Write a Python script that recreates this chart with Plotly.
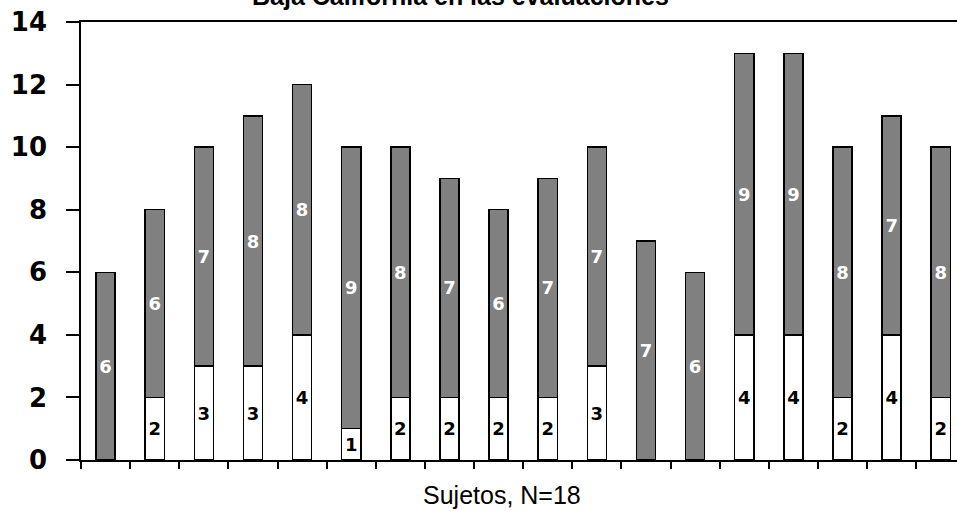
import plotly.graph_objects as go

subjects = list(range(1, 19))
white_vals = [0, 2, 3, 3, 4, 1, 2, 2, 2, 2, 3, 0, 0, 4, 4, 2, 4, 2]
gray_vals = [6, 6, 7, 8, 8, 9, 8, 7, 6, 7, 7, 7, 6, 9, 9, 8, 7, 8]
y_ticks = [0, 2, 4, 6, 8, 10, 12, 14]
title_text = "Baja California en las evaluaciones"
x_title = "Sujetos, N=18"

xpos = [s - 1 for s in subjects]
bar_w = 0.39

fig = go.Figure()
fig.add_trace(go.Bar(
    x=xpos, y=white_vals, width=bar_w,
    marker=dict(color="white", line=dict(color="black", width=1.5)),
    text=[str(v) if v else "" for v in white_vals],
    textposition="inside", insidetextanchor="middle", constraintext="none",
    textfont=dict(family="DejaVu Sans", size=18, color="black", weight="bold"),
    textangle=0, showlegend=False, hoverinfo="skip",
))
fig.add_trace(go.Bar(
    x=xpos, y=gray_vals, width=bar_w,
    marker=dict(color="#808080", line=dict(color="black", width=1.5)),
    text=[str(v) if v else "" for v in gray_vals],
    textposition="inside", insidetextanchor="middle", constraintext="none",
    textfont=dict(family="DejaVu Sans", size=18, color="white", weight="bold"),
    textangle=0, showlegend=False, hoverinfo="skip",
))

fig.update_layout(
    barmode="stack",
    width=957, height=511,
    margin=dict(l=81, r=0, t=22, b=51),
    plot_bgcolor="white", paper_bgcolor="white",
    xaxis=dict(
        range=[-0.5, 17.33], tickvals=[i - 0.5 for i in range(19)],
        showticklabels=False, ticks="outside", ticklen=7, tickwidth=1.5,
        tickcolor="black", showline=True, linecolor="black", linewidth=1.5,
        mirror=True, showgrid=False, zeroline=False,
    ),
    yaxis=dict(
        range=[0, 14], tickvals=y_ticks, ticks="outside", ticklen=13,
        tickwidth=1.5, tickcolor="black", showline=True, linecolor="black",
        linewidth=1.5, showgrid=False, zeroline=False,
        tickfont=dict(family="DejaVu Sans", size=26, color="black", weight="bold"),
        ticklabelstandoff=14,
    ),
    annotations=[
        dict(text=title_text, xref="paper", yref="paper", x=0.4327, y=1.059,
             xanchor="center", yanchor="middle", showarrow=False,
             font=dict(family="Liberation Sans", size=25, color="black", weight="bold")),
        dict(text=x_title, xref="paper", yref="paper", x=0.4806, y=-0.081,
             xanchor="center", yanchor="middle", showarrow=False,
             font=dict(family="Liberation Sans", size=25, color="black")),
    ],
)

fig.write_html("out.html")
